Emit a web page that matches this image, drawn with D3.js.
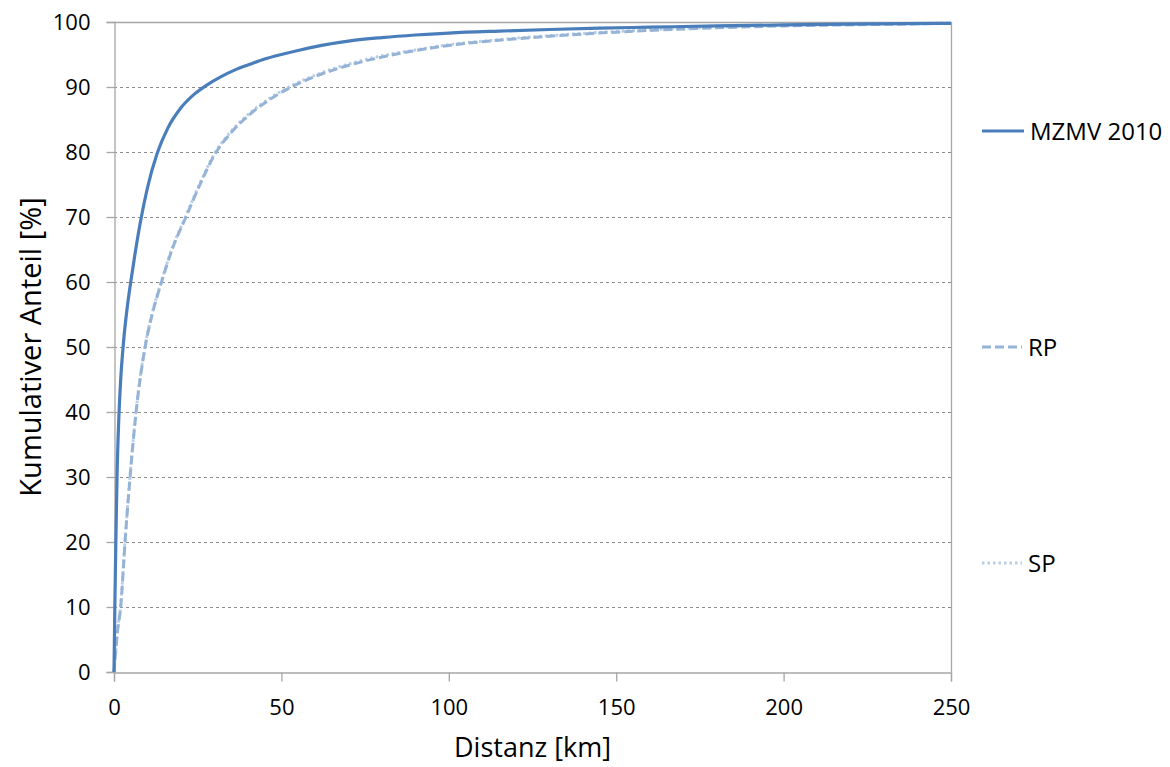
<!DOCTYPE html>
<html>
<head>
<meta charset="utf-8">
<script src="https://cdn.jsdelivr.net/npm/d3@7"></script>
<style>
  html, body { margin: 0; padding: 0; background: #fff; }
  svg { display: block; }
  text { font-family: "Open Sans", Lato, sans-serif; fill: #000; }
</style>
</head>
<body>
<svg id="chart" width="1170" height="767"></svg>
<script>
// ---- data ----
const xTicks = [0, 50, 100, 150, 200, 250];
const yTicks = [0, 10, 20, 30, 40, 50, 60, 70, 80, 90, 100];

const mzmvDist = [0, 0.25, 0.55, 0.9, 1.4, 2, 2.8, 4, 5, 6, 7.8, 10, 12.9, 16, 20, 24, 27.7, 32, 36, 40.6, 45, 50, 55.6, 62, 70.5, 80, 90, 100, 115, 130, 145, 160, 180, 200, 225, 250];
const mzmvPct  = [0, 10, 20, 30, 38.5, 45, 50.5, 56.3, 60, 63.4, 69, 74.5, 79.8, 83.6, 86.8, 88.9, 90.3, 91.6, 92.6, 93.5, 94.3, 95, 95.7, 96.4, 97.1, 97.6, 98.0, 98.3, 98.6, 98.85, 99.05, 99.2, 99.4, 99.55, 99.7, 99.8];

const rpDist = [0, 0.5, 1, 2, 3.3, 4.8, 6.6, 9.3, 11.5, 14.2, 17.5, 21.5, 25.5, 30.2, 35, 40.6, 46, 52.6, 60, 70.5, 80, 90, 100, 115, 130, 145, 160, 180, 200, 225, 250];
const rpPct  = [0, 3, 6, 10, 20, 30, 40, 50, 55.2, 60, 65.2, 70, 74.8, 79.7, 83.0, 85.8, 87.9, 89.9, 91.6, 93.4, 94.6, 95.6, 96.4, 97.2, 97.8, 98.3, 98.7, 99.1, 99.4, 99.6, 99.8];

const spDist = [0, 0.5, 1, 2, 3.3, 4.8, 6.6, 9.3, 11.5, 14.2, 17.5, 21.5, 25.5, 30.2, 35, 40.6, 46, 52.6, 60, 70.5, 80, 90, 100, 115, 130, 145, 160, 180, 200, 225, 250];
const spPct  = [0, 3.2, 6.3, 10.3, 20.2, 30.3, 40.2, 50.2, 55.4, 60.2, 65.4, 70.2, 75.0, 79.9, 83.2, 86.0, 88.1, 90.1, 91.8, 93.6, 94.8, 95.7, 96.5, 97.3, 97.9, 98.4, 98.8, 99.2, 99.5, 99.7, 99.85];

const seriesNames = ["MZMV 2010", "RP", "SP"];

// ---- layout ----
const svg = d3.select("#chart");
const mLeft = 114, mRight = 951, mTop = 22, mBottom = 672;
const x = d3.scaleLinear().domain([0, 250]).range([mLeft, mRight]);
const y = d3.scaleLinear().domain([0, 100]).range([mBottom, mTop]);

// gridlines
svg.append("g").selectAll("line").data(yTicks.filter(t => t > 0 && t < 100)).join("line")
  .attr("x1", mLeft).attr("x2", mRight)
  .attr("y1", d => y(d) + 0.5).attr("y2", d => y(d) + 0.5)
  .attr("stroke", "#8c8c8c").attr("stroke-width", 1).attr("stroke-dasharray", "3,3");

// plot border (top and right)
svg.append("line").attr("x1", mLeft).attr("x2", mRight + 0.5).attr("y1", mTop + 0.5).attr("y2", mTop + 0.5)
  .attr("stroke", "#a6a6a6").attr("stroke-width", 1.3);
svg.append("line").attr("x1", mRight + 0.5).attr("x2", mRight + 0.5).attr("y1", mTop).attr("y2", mBottom)
  .attr("stroke", "#a6a6a6").attr("stroke-width", 1.3);

// axes
const fontFam = "'Open Sans', Lato, sans-serif";
const yAxis = d3.axisLeft(y).tickValues(yTicks).tickSize(8).tickPadding(16).tickFormat(d3.format("d"));
const gy = svg.append("g").attr("transform", `translate(${mLeft + 0.5},0)`).call(yAxis);
gy.select(".domain").attr("stroke", "#a6a6a6").attr("stroke-width", 1.3);
gy.selectAll(".tick line").attr("stroke", "#a6a6a6").attr("stroke-width", 1.3);
gy.selectAll(".tick text").style("font-size", "22px").style("font-family", fontFam).attr("fill", "#000");

const xAxis = d3.axisBottom(x).tickValues(xTicks).tickSize(9).tickPadding(18).tickFormat(d3.format("d"));
const gx = svg.append("g").attr("transform", `translate(0,${mBottom + 0.5})`).call(xAxis);
gx.select(".domain").attr("stroke", "#a6a6a6").attr("stroke-width", 1.3);
gx.selectAll(".tick line").attr("stroke", "#a6a6a6").attr("stroke-width", 1.3);
gx.selectAll(".tick text").style("font-size", "22px").style("font-family", fontFam).attr("fill", "#000");

// axis titles
svg.append("text").attr("x", (mLeft + mRight) / 2).attr("y", 757)
  .attr("text-anchor", "middle").style("font-size", "27px").text("Distanz [km]");
svg.append("text").attr("transform", `translate(41,${(mTop + mBottom) / 2}) rotate(-90)`)
  .attr("text-anchor", "middle").style("font-size", "29px").text("Kumulativer Anteil [%]");

// series
const line = d3.line().x(d => x(d[0])).y(d => y(d[1])).curve(d3.curveMonotoneX);
const zip = (a, b) => a.map((v, i) => [v, b[i]]);

const styles = [
  { color: "#4a7ebb", width: 3.2, dash: null },
  { color: "#95b3d7", width: 3, dash: "9,4" },
  { color: "#b9cde5", width: 3, dash: "2.5,3" }
];
const datasets = [zip(mzmvDist, mzmvPct), zip(rpDist, rpPct), zip(spDist, spPct)];

[2, 1, 0].forEach(i => {
  svg.append("path").datum(datasets[i])
    .attr("fill", "none").attr("stroke", styles[i].color)
    .attr("stroke-width", styles[i].width)
    .attr("stroke-dasharray", styles[i].dash)
    .attr("d", line);
});

// legend
const legendY = [131, 347, 563];
seriesNames.forEach((name, i) => {
  const g = svg.append("g").attr("transform", `translate(982,${legendY[i]})`);
  g.append("line").attr("x1", 0).attr("x2", i === 0 ? 42 : 40).attr("y1", 0).attr("y2", 0)
    .attr("stroke", styles[i].color).attr("stroke-width", styles[i].width)
    .attr("stroke-dasharray", styles[i].dash);
  g.append("text").attr("x", i === 0 ? 48 : 46).attr("y", 8.5).style("font-size", "24px").text(name);
});
</script>
</body>
</html>
